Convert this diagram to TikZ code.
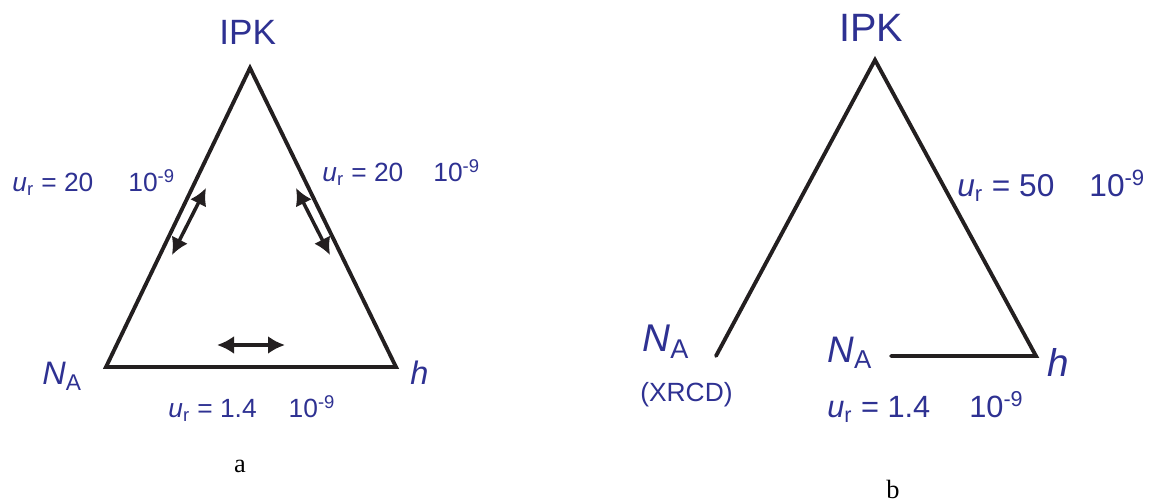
\documentclass[tikz,border=0pt]{standalone}
\usepackage{fontspec}
\setmainfont{Liberation Sans}
\newfontfamily\capfont{Liberation Serif}
\usetikzlibrary{arrows.meta}
\definecolor{ipkblue}{RGB}{46,49,146}
\definecolor{edgeblack}{RGB}{35,31,32}
\newcommand{\urel}[2][7mm]{\textit{u}\textsubscript{r} = #2\hspace{#1}10\textsuperscript{-9}}
\newcommand{\fs}[1]{\fontsize{#1}{#1}\selectfont}
\begin{document}
\begin{tikzpicture}[>={Latex[length=3.4mm,width=3.6mm]}]
  \tikzset{lbl/.style={text=ipkblue, inner sep=0pt, anchor=base west},
    side/.style={draw=edgeblack, line width=2.2pt, line cap=round, line join=miter},
    dbl/.style={draw=edgeblack, line width=2pt, <->}}
  \useasboundingbox (0,0) rectangle (23.08,10.08);
  % (a) closed triangle
  \coordinate (ipkA) at (5.00,8.72);
  \coordinate (naA) at (2.12,2.74);
  \coordinate (hA) at (7.92,2.74);
  \draw[side] (ipkA) -- (hA) -- (naA) -- cycle;
  \coordinate (l1) at (3.44,4.98);
  \coordinate (l2) at (4.12,6.32);
  \coordinate (r1) at (5.92,6.32);
  \coordinate (r2) at (6.60,4.98);
  \coordinate (b1) at (4.34,3.18);
  \coordinate (b2) at (5.70,3.18);
  \draw[dbl] (l1) -- (l2);
  \draw[dbl] (r1) -- (r2);
  \draw[dbl] (b1) -- (b2);
  \node[lbl, font=\fs{20pt}] (ipkAlbl) at (4.38,9.18) {IPK};
  \node[lbl, font=\fs{15pt}] (urAl) at (0.24,6.24) {\urel{20}};
  \node[lbl, font=\fs{15pt}] (urAr) at (6.44,6.44) {\urel[6mm]{20}};
  \node[lbl, font=\fs{15pt}] (urAb) at (3.36,1.72) {\urel[6.4mm]{1.4}};
  \node[lbl, font=\fs{18.5pt}] (naAlbl) at (0.84,2.38) {\textit{N}\textsubscript{A}};
  \node[lbl, font=\fs{18.5pt}] (hAlbl) at (8.20,2.38) {\textit{h}};
  \node[font=\capfont\fs{15pt}] (capA) at (4.80,0.76) {a};
  % (b) open triangle
  \coordinate (ipkB) at (17.50,8.88);
  \coordinate (naB) at (14.32,2.96);
  \coordinate (hB) at (20.72,2.96);
  \coordinate (naB2) at (17.82,2.96);
  \draw[side] (naB) -- (ipkB) -- (hB) -- (naB2);
  \node[lbl, font=\fs{22.5pt}] (ipkBlbl) at (16.78,9.24) {IPK};
  \node[lbl, font=\fs{18pt}] (urBr) at (19.14,6.14) {\urel{50}};
  \node[lbl, font=\fs{22pt}] (naBlbl) at (12.84,3.04) {\textit{N}\textsubscript{A}};
  \node[lbl, font=\fs{15pt}] (xrcd) at (12.80,2.04) {(XRCD)};
  \node[lbl, font=\fs{21pt}] (naB2lbl) at (16.54,2.82) {\textit{N}\textsubscript{A}};
  \node[lbl, font=\fs{22pt}] (hBlbl) at (20.94,2.54) {\textit{h}};
  \node[lbl, font=\fs{17.5pt}] (urBb) at (16.54,1.72) {\urel[7.8mm]{1.4}};
  \node[font=\capfont\fs{15pt}] (capB) at (17.86,0.30) {b};
\end{tikzpicture}
\end{document}
